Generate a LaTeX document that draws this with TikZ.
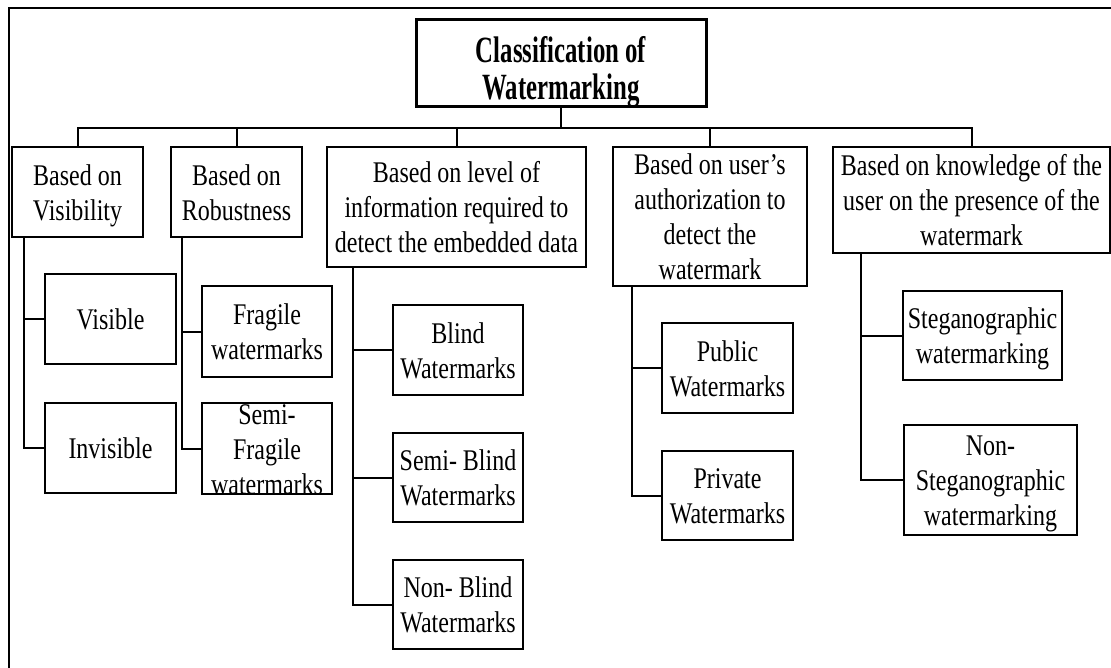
\documentclass[tikz,border=0pt]{standalone}
\usepackage{fontspec}
\setmainfont[FakeStretch=0.8]{Liberation Serif}
\newfontfamily\titlefont[FakeStretch=0.67]{Liberation Serif}
\newcommand{\tb}[1]{\smash{\raisebox{-10pt}{\begin{tabular}{@{}c@{}}#1\end{tabular}}}}
\newcommand{\ttb}[1]{\smash{\raisebox{-16pt}{\begin{tabular}{@{}c@{}}#1\end{tabular}}}}
\tikzset{
  box/.style={draw, line width=2pt, inner sep=0pt, font=\fontsize{30}{35}\selectfont},
  titlebox/.style={draw, line width=3pt, inner sep=0pt, font=\titlefont\bfseries\fontsize{37}{37}\selectfont},
  link/.style={line width=2pt},
  frame/.style={line width=2.5pt}
}
\begin{document}
\begin{tikzpicture}[x=1pt,y=-1pt]
\useasboundingbox (0,0) rectangle (1111,668);
\draw[frame] (9,668) -- (9,8) -- (1111,8);

\node[titlebox, minimum width=290, minimum height=87] (title) at (561,63.5) {\ttb{Classification of\\Watermarking}};

\node[box, minimum width=131, minimum height=90] (A) at (77.5,192) {\tb{Based on\\Visibility}};
\node[box, minimum width=131, minimum height=90] (B) at (236.5,192) {\tb{Based on\\Robustness}};
\node[box, minimum width=259, minimum height=120] (C) at (456.5,207) {\tb{Based on level of\\information required to\\detect the embedded data}};
\node[box, minimum width=194, minimum height=139] (D) at (710,216.5) {\tb{Based on user’s\\authorization to\\detect the\\watermark}};
\node[box, minimum width=277, minimum height=106] (E) at (971.5,200) {\tb{Based on knowledge of the\\user on the presence of the\\watermark}};

\node[box, minimum width=131, minimum height=90] (vis) at (110.5,319) {\tb{Visible}};
\node[box, minimum width=131, minimum height=90] (inv) at (110.5,448) {\tb{Invisible}};
\node[box, minimum width=130, minimum height=91] (frag) at (267,331.5) {\tb{Fragile\\watermarks}};
\node[box, minimum width=130, minimum height=91] (sfrag) at (267,448.5) {\tb{Semi-\\Fragile\\watermarks}};
\node[box, minimum width=130, minimum height=90] (blind) at (458,350) {\tb{Blind\\Watermarks}};
\node[box, minimum width=130, minimum height=89] (sblind) at (458,477.5) {\tb{Semi- Blind\\Watermarks}};
\node[box, minimum width=130, minimum height=89] (nblind) at (458,604.5) {\tb{Non- Blind\\Watermarks}};
\node[box, minimum width=131, minimum height=90] (pub) at (727.5,368) {\tb{Public\\Watermarks}};
\node[box, minimum width=131, minimum height=89] (priv) at (727.5,495.5) {\tb{Private\\Watermarks}};
\node[box, minimum width=159, minimum height=89] (steg) at (982.5,335.5) {\tb{Steganographic\\watermarking}};
\node[box, minimum width=173, minimum height=110] (nsteg) at (990.5,480) {\tb{Non-\\Steganographic\\watermarking}};

% bus
\coordinate (bus) at ([yshift=-20pt]title.south);
\draw[link] (title.south) -- (bus);
\draw[link] (A.north) -- (A.north |- bus) -- (E.north |- bus) -- (E.north);
\draw[link] (B.north) -- (B.north |- bus);
\draw[link] (C.north) -- (C.north |- bus);
\draw[link] (D.north) -- (D.north |- bus);

% children
\draw[link] ([xshift=13pt]A.south west) |- (inv.west);
\draw[link] ([xshift=13pt]A.south west) |- (vis.west);
\draw[link] ([xshift=12pt]B.south west) |- (sfrag.west);
\draw[link] ([xshift=12pt]B.south west) |- (frag.west);
\draw[link] ([xshift=27pt]C.south west) |- (nblind.west);
\draw[link] ([xshift=27pt]C.south west) |- (sblind.west);
\draw[link] ([xshift=27pt]C.south west) |- (blind.west);
\draw[link] ([xshift=20pt]D.south west) |- (priv.west);
\draw[link] ([xshift=20pt]D.south west) |- (pub.west);
\draw[link] ([xshift=29pt]E.south west) |- (nsteg.west);
\draw[link] ([xshift=29pt]E.south west) |- (steg.west);
\end{tikzpicture}
\end{document}
